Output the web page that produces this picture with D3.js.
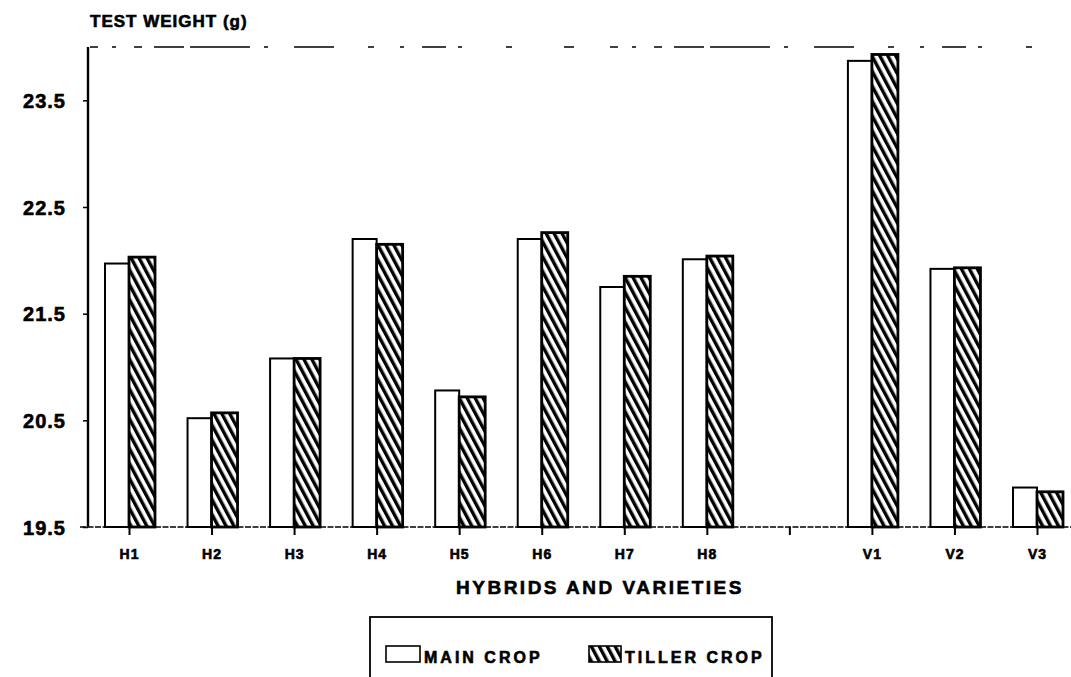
<!DOCTYPE html>
<html>
<head>
<meta charset="utf-8">
<script src="https://cdn.jsdelivr.net/npm/d3@7"></script>
<style>
  body { margin: 0; background: #fff; }
  text { font-family: "Liberation Sans", Arial, sans-serif; font-weight: bold; fill: #000; stroke: #000; stroke-width: 0.6px; }
</style>
</head>
<body>
<svg id="chart"></svg>
<script>
// categories (the blank one is the gap between hybrids and varieties)
var categories = ["H1", "H2", "H3", "H4", "H5", "H6", "H7", "H8", "", "V1", "V2", "V3"];
var mainCrop   = [21.97, 20.52, 21.08, 22.20, 20.78, 22.20, 21.75, 22.01, null, 23.87, 21.92, 19.87];
var tillerCrop = [22.03, 20.57, 21.08, 22.15, 20.72, 22.26, 21.85, 22.04, null, 23.93, 21.93, 19.83];
var yTicks = [19.5, 20.5, 21.5, 22.5, 23.5];

var width = 1071, height = 677;

var svg = d3.select("#chart")
  .attr("width", width)
  .attr("height", height);

var defs = svg.append("defs");
var pat = defs.append("pattern")
  .attr("id", "hatch")
  .attr("patternUnits", "userSpaceOnUse")
  .attr("width", 7)
  .attr("height", 7)
  .attr("patternTransform", "rotate(-28)");
pat.append("rect").attr("width", 7).attr("height", 7).attr("fill", "#fff");
pat.append("rect").attr("x", 0).attr("width", 3.4).attr("height", 7).attr("fill", "#000");

var x = d3.scalePoint()
  .domain(categories.map(function(d, i){ return i; }))
  .range([129, 1037]);

var y = d3.scaleLinear()
  .domain([19.5, 24.0])
  .range([527, 47]);

var mainW = 24, tillerW = 26;

// frame: dashed top line and base line
svg.append("line")
  .attr("x1", 90).attr("x2", 1050)
  .attr("y1", y(24)).attr("y2", y(24))
  .attr("stroke", "#000").attr("stroke-width", 1.5)
  .attr("stroke-dasharray", "8,14,4,18,8,12,30,6,60,14,4,26,40,34,6,26,4,18,24,12,4,44,6,52,10,36");

svg.append("line")
  .attr("x1", 80).attr("x2", 1071)
  .attr("y1", y(19.5)).attr("y2", y(19.5))
  .attr("stroke", "#000").attr("stroke-width", 1.6)
  .attr("stroke-dasharray", "6,1.5");

// y axis
var yAxis = d3.axisLeft(y)
  .tickValues(yTicks)
  .tickSize(5)
  .tickPadding(17)
  .tickFormat(d3.format(".1f"));

var gy = svg.append("g")
  .attr("transform", "translate(88,0)")
  .call(yAxis);
gy.select(".domain").remove();
gy.append("line")
  .attr("x1", 0).attr("x2", 0)
  .attr("y1", y(24)).attr("y2", y(19.5))
  .attr("stroke", "#000").attr("stroke-width", 2.4);
gy.selectAll(".tick line").attr("stroke", "#000").attr("stroke-width", 1.5);
gy.selectAll(".tick text")
  .style("font-size", "20px")
  .style("letter-spacing", "1px")
  .attr("dy", "0.36em");

// x axis
var xAxis = d3.axisBottom(x)
  .tickSize(8)
  .tickPadding(14)
  .tickFormat(function(i){ return categories[i]; });

var gx = svg.append("g")
  .attr("transform", "translate(0," + y(19.5) + ")")
  .call(xAxis);
gx.select(".domain").remove();
gx.selectAll(".tick line").attr("stroke", "#000").attr("stroke-width", 2);
gx.selectAll(".tick text").style("font-size", "14px").style("letter-spacing", "1px");

// bars
var idx = categories.map(function(d, i){ return i; }).filter(function(i){ return mainCrop[i] != null; });

svg.selectAll("rect.main")
  .data(idx)
  .enter()
  .append("rect")
  .attr("class", "main")
  .attr("x", function(i){ return x(i) - mainW; })
  .attr("y", function(i){ return y(mainCrop[i]); })
  .attr("width", mainW)
  .attr("height", function(i){ return y(19.5) - y(mainCrop[i]); })
  .attr("fill", "#fff")
  .attr("stroke", "#000")
  .attr("stroke-width", 2);

svg.selectAll("rect.tiller")
  .data(idx)
  .enter()
  .append("rect")
  .attr("class", "tiller")
  .attr("x", function(i){ return x(i); })
  .attr("y", function(i){ return y(tillerCrop[i]); })
  .attr("width", tillerW)
  .attr("height", function(i){ return y(19.5) - y(tillerCrop[i]); })
  .attr("fill", "url(#hatch)")
  .attr("stroke", "#000")
  .attr("stroke-width", 2.8);

// titles
svg.append("text")
  .attr("x", 90).attr("y", 27)
  .style("font-size", "17px")
  .style("letter-spacing", "1px")
  .text("TEST WEIGHT (g)");

svg.append("text")
  .attr("x", 600).attr("y", 594)
  .attr("text-anchor", "middle")
  .style("font-size", "19px")
  .style("letter-spacing", "2.5px")
  .text("HYBRIDS AND VARIETIES");

// legend
var lg = svg.append("g");
lg.append("rect")
  .attr("x", 370).attr("y", 617)
  .attr("width", 402).attr("height", 80)
  .attr("fill", "none")
  .attr("stroke", "#000")
  .attr("stroke-width", 1.8);

lg.append("rect")
  .attr("x", 386).attr("y", 646)
  .attr("width", 34).attr("height", 16)
  .attr("fill", "#fff").attr("stroke", "#000").attr("stroke-width", 1.6);
lg.append("text")
  .attr("x", 424).attr("y", 663)
  .style("font-size", "16px")
  .style("letter-spacing", "3px")
  .text("MAIN CROP");

lg.append("rect")
  .attr("x", 589).attr("y", 646)
  .attr("width", 32).attr("height", 16)
  .attr("fill", "url(#hatch)").attr("stroke", "#000").attr("stroke-width", 1.6);
lg.append("text")
  .attr("x", 625).attr("y", 663)
  .style("font-size", "16px")
  .style("letter-spacing", "3px")
  .text("TILLER CROP");
</script>
</body>
</html>
